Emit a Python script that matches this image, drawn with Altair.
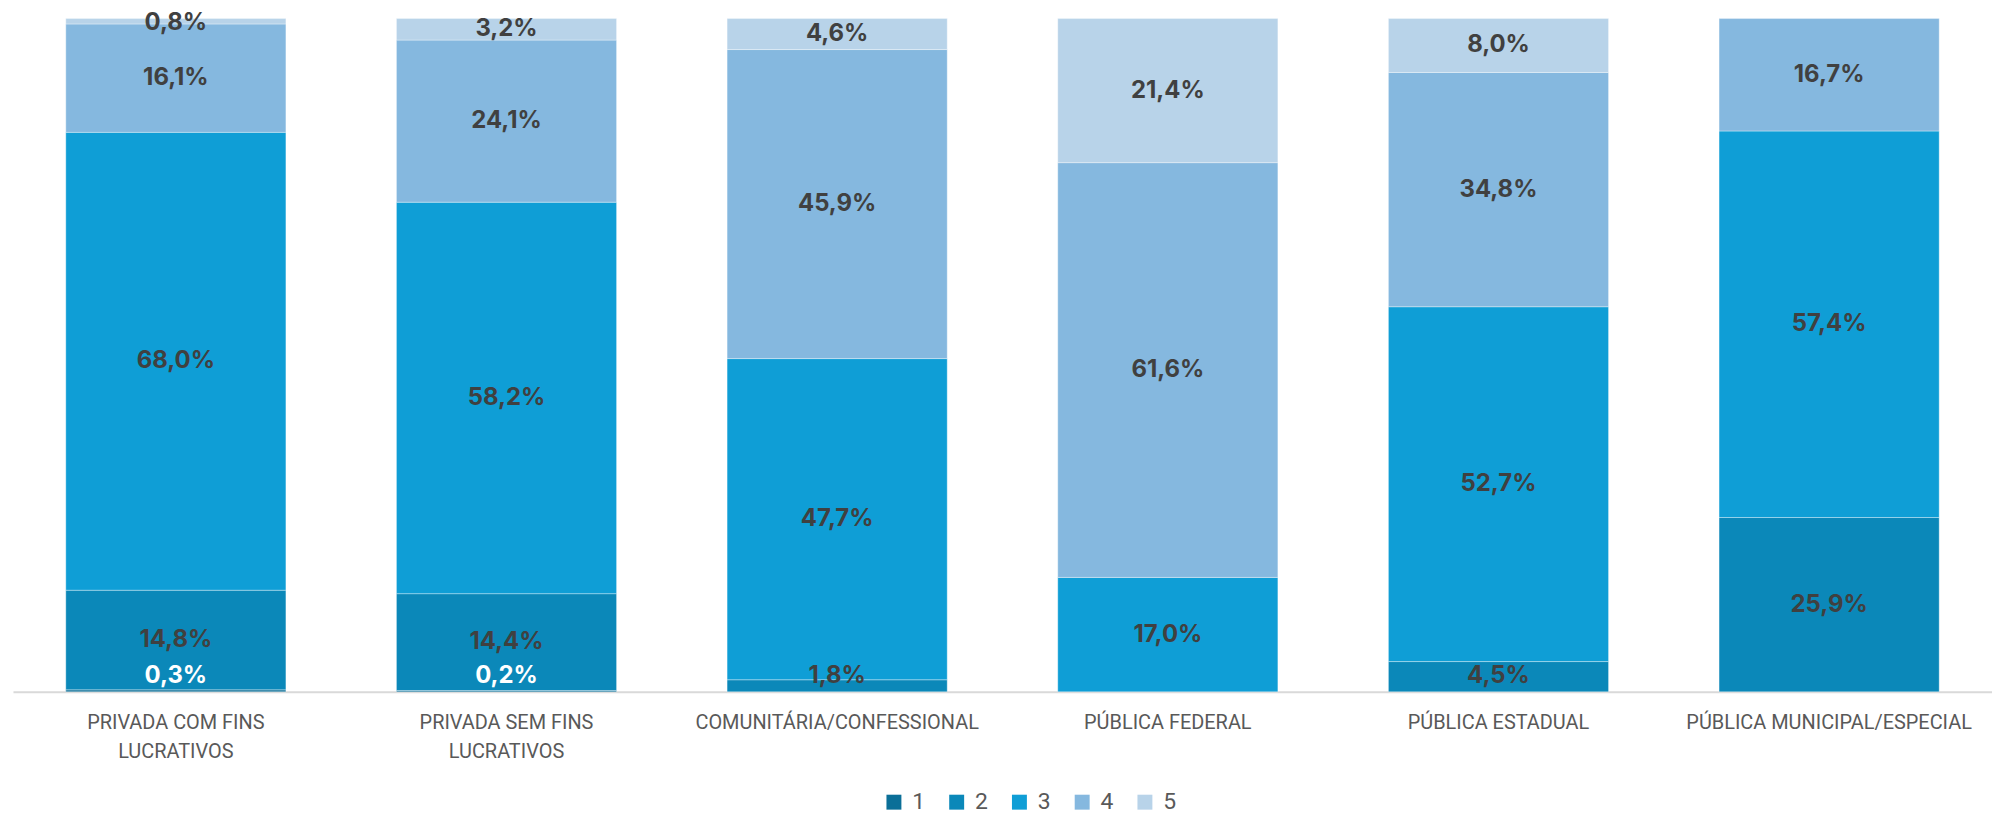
import altair as alt
import pandas as pd

categories = [
    "PRIVADA COM FINS\nLUCRATIVOS",
    "PRIVADA SEM FINS\nLUCRATIVOS",
    "COMUNITÁRIA/CONFESSIONAL",
    "PÚBLICA FEDERAL",
    "PÚBLICA ESTADUAL",
    "PÚBLICA MUNICIPAL/ESPECIAL",
]
series = ["1", "2", "3", "4", "5"]
s1 = [0.3, 0.2, 0.0, 0.0, 0.0, 0.0]
s2 = [14.8, 14.4, 1.8, 0.0, 4.5, 25.9]
s3 = [68.0, 58.2, 47.7, 17.0, 52.7, 57.4]
s4 = [16.1, 24.1, 45.9, 61.6, 34.8, 16.7]
s5 = [0.8, 3.2, 4.6, 21.4, 8.0, 0.0]
colors = ["#0B6F98", "#0B88B9", "#0F9ED6", "#85B8DF", "#B8D3E9"]

rows = []
for si, (name, vals) in enumerate(zip(series, [s1, s2, s3, s4, s5])):
    for c, v in zip(categories, vals):
        rows.append({"cat": c, "series": name, "order": si, "value": v})
df = pd.DataFrame(rows)

yscale = alt.Scale(domain=[0, 1], nice=False, zero=True)
xaxis = alt.Axis(
    title=None, labelAngle=0, ticks=False, domainColor="#d9d9d9", domainWidth=2,
    labelFont="Roboto", labelFontSize=20, labelColor="#595959", labelPadding=21,
    labelLineHeight=29, labelLimit=400, labelBaseline="top",
    labelExpr="split(datum.label, '\\n')",
)
xenc = alt.X("cat:N", sort=categories,
             scale=alt.Scale(paddingInner=0.3343, paddingOuter=0.1597), axis=xaxis)

base = alt.Chart(df).transform_filter("datum.value > 0").transform_stack(
    stack="value", groupby=["cat"], as_=["v0", "v1"],
    sort=[alt.SortField("order", "ascending")], offset="normalize",
)

bars = base.mark_bar(stroke="#ffffff", strokeWidth=1, strokeOpacity=0.35).encode(
    x=xenc,
    y=alt.Y("v0:Q", scale=yscale, axis=None),
    y2="v1:Q",
    color=alt.Color(
        "series:N",
        scale=alt.Scale(domain=series, range=colors),
        legend=alt.Legend(
            title=None, orient="none", legendX=873, legendY=775,
            direction="horizontal", symbolType="square", symbolSize=225,
            symbolStrokeWidth=0, labelFont="Roboto", labelFontSize=23,
            labelColor="#595959", labelOffset=7, columnPadding=20, padding=0,
        ),
    ),
)

labels = base.transform_calculate(
    ymid="min(max((datum.v0 + datum.v1) / 2, 0.023), 0.993)",
    label="replace(format(datum.value, '.1f'), '.', ',') + '%'",
).mark_text(font="Inter", fontWeight="bold", fontSize=24, baseline="middle").encode(
    x=xenc,
    y=alt.Y("ymid:Q", scale=yscale, axis=None),
    text="label:N",
    color=alt.condition("datum.series == '1'", alt.value("#ffffff"), alt.value("#404040")),
)

chart = alt.layer(bars, labels).properties(
    width=1987, height=676,
    autosize=alt.AutoSizeParams(type="none"),
    padding={"left": 5, "top": 9, "right": 0, "bottom": 122},
).configure_view(stroke=None)

chart.save("out.html", embed_options={"renderer": "svg", "actions": False})
